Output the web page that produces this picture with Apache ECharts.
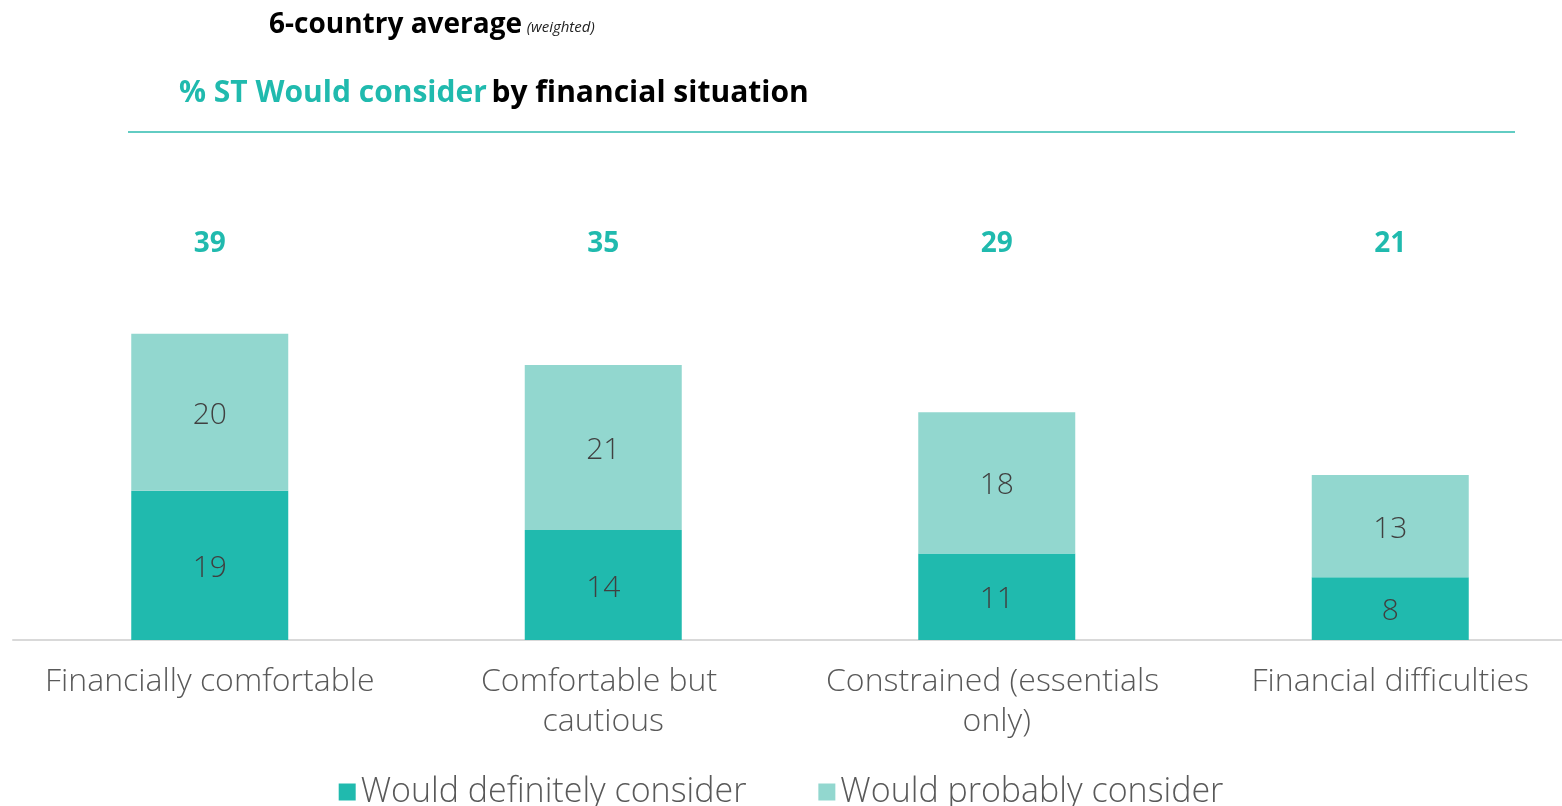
<!DOCTYPE html>
<html>
<head>
<meta charset="utf-8">
<script src="https://cdn.jsdelivr.net/npm/echarts@6/dist/echarts.min.js"></script>
<style>html,body{margin:0;padding:0;background:#fff}#c{width:1562px;height:806px}</style>
</head>
<body>
<div id="c"></div>
<script>
const categories = ['Financially comfortable', 'Comfortable but cautious', 'Constrained (essentials only)', 'Financial difficulties'];
const definitely = [19, 14, 11, 8];
const probably = [20, 21, 18, 13];
const totals = [39, 35, 29, 21];
const seriesNames = ['Would definitely consider', 'Would probably consider'];

const FONT = 'Open Sans';
const chart = echarts.init(document.getElementById('c'));
chart.setOption({
  animation: false,
  textStyle: { fontFamily: FONT },
  title: [
    {
      left: 264, top: -6,
      text: '{b|6-country average} {i|(weighted)}',
      textStyle: { fontWeight: 'normal', rich: {
        b: { fontFamily: FONT, fontWeight: 'bold', fontSize: 28, color: '#000', lineHeight: 40, verticalAlign: 'bottom' },
        i: { fontFamily: FONT, fontStyle: 'italic', fontWeight: 'normal', fontSize: 15, color: '#222', lineHeight: 40, verticalAlign: 'bottom', padding: [0, 0, 4, 0] }
      } }
    },
    {
      left: 174, top: 73,
      text: '{t|% ST Would consider} {k|by financial situation}',
      textStyle: { rich: {
        t: { fontFamily: FONT, fontWeight: 'bold', fontSize: 30, color: '#20BAAE' },
        k: { fontFamily: FONT, fontWeight: 'bold', fontSize: 30, color: '#000' }
      } }
    }
  ],
  graphic: [
    { type: 'line', shape: { x1: 128, y1: 132, x2: 1515, y2: 132 }, style: { stroke: '#62CCC3', lineWidth: 2 } }
  ],
  legend: {
    data: seriesNames,
    top: 770, left: 'center',
    itemWidth: 17, itemHeight: 17, itemGap: 72,
    icon: 'rect',
    textStyle: { fontSize: 34, color: '#595959', fontWeight: 300, fontFamily: FONT }
  },
  grid: { left: 13, width: 1574, top: 208, bottom: 166, outerBoundsMode: 'none', containLabel: false },
  xAxis: [
    {
      type: 'category', data: categories,
      axisLine: { lineStyle: { color: '#D9D9D9', width: 2 } },
      axisTick: { show: false },
      axisLabel: { fontSize: 32, color: '#595959', fontWeight: 300, margin: 22, width: 365, overflow: 'break', lineHeight: 40, interval: 0 }
    },
    {
      type: 'category', data: categories, position: 'top',
      axisLine: { show: false }, axisTick: { show: false },
      axisLabel: { inside: true, margin: 22, interval: 0, fontSize: 28, fontWeight: 'bold', color: '#20BAAE',
        formatter: (v, i) => String(totals[i]) }
    }
  ],
  yAxis: { type: 'value', min: 0, max: 55, show: false, splitLine: { show: false } },
  series: [
    {
      name: seriesNames[0], type: 'bar', stack: 's', data: definitely, barWidth: 157,
      itemStyle: { color: '#20BAAE' },
      label: { show: true, position: 'inside', fontSize: 30, color: '#404040', fontWeight: 300, offset: [0, 3] }
    },
    {
      name: seriesNames[1], type: 'bar', stack: 's', data: probably, barWidth: 157,
      itemStyle: { color: '#92D7CF' },
      label: { show: true, position: 'inside', fontSize: 30, color: '#404040', fontWeight: 300, offset: [0, 3] }
    }
  ]
});
</script>
</body>
</html>
